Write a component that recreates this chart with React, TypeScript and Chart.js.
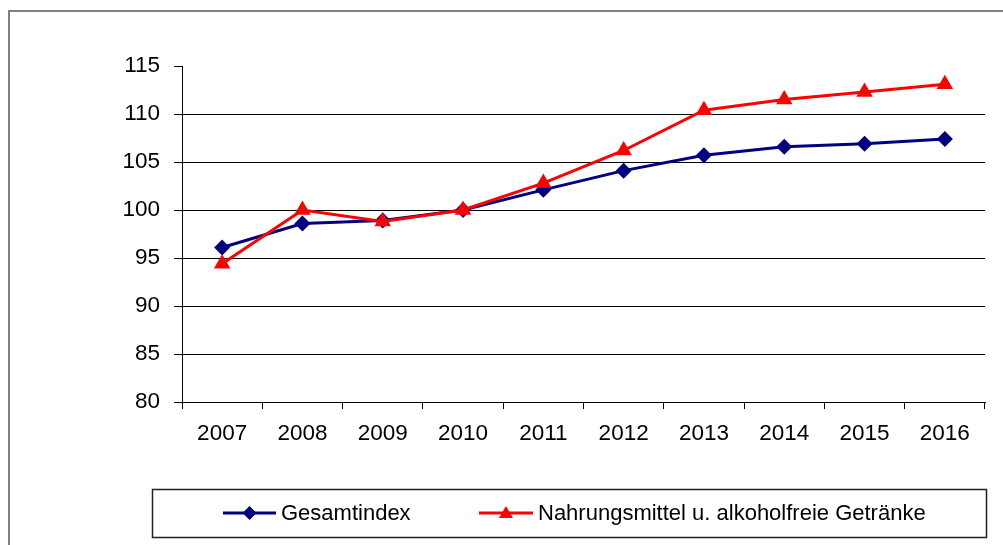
import React, { useEffect, useRef } from "react";
import { Chart, registerables } from "chart.js";

Chart.register(...registerables);

const years = ["2007", "2008", "2009", "2010", "2011", "2012", "2013", "2014", "2015", "2016"];
const gesamtindex = [96.1, 98.6, 98.9, 100, 102.1, 104.1, 105.7, 106.6, 106.9, 107.4];
const nahrungsmittel = [94.4, 100.0, 98.8, 100, 102.8, 106.2, 110.4, 111.5, 112.3, 113.1];
const seriesNames = ["Gesamtindex", "Nahrungsmittel u. alkoholfreie Getränke"];

const FONT = "'Liberation Sans', Arial, sans-serif";

const framePlugin = {
  id: "frame",
  beforeDraw(chart: any) {
    const ctx = chart.ctx;
    ctx.save();
    ctx.strokeStyle = "#808080";
    ctx.lineWidth = 2;
    ctx.beginPath();
    ctx.moveTo(9, 545);
    ctx.lineTo(9, 11);
    ctx.lineTo(1003, 11);
    ctx.stroke();
    ctx.restore();
  },
};

function drawDiamond(ctx: CanvasRenderingContext2D, x: number, y: number, r: number, color: string) {
  ctx.fillStyle = color;
  ctx.beginPath();
  ctx.moveTo(x, y - r);
  ctx.lineTo(x + r, y);
  ctx.lineTo(x, y + r);
  ctx.lineTo(x - r, y);
  ctx.closePath();
  ctx.fill();
}

function drawTriangle(ctx: CanvasRenderingContext2D, x: number, y: number, w: number, h: number, color: string) {
  ctx.fillStyle = color;
  ctx.beginPath();
  ctx.moveTo(x, y - h / 2);
  ctx.lineTo(x + w / 2, y + h / 2);
  ctx.lineTo(x - w / 2, y + h / 2);
  ctx.closePath();
  ctx.fill();
}

const legendPlugin = {
  id: "boxLegend",
  afterDraw(chart: any) {
    const ctx: CanvasRenderingContext2D = chart.ctx;
    ctx.save();
    ctx.strokeStyle = "#202020";
    ctx.lineWidth = 1.5;
    ctx.strokeRect(152.5, 489.5, 834, 48);
    const cy = 513;
    ctx.font = `22px ${FONT}`;
    ctx.textBaseline = "middle";
    ctx.textAlign = "left";
    // entry 1
    ctx.strokeStyle = "#000080";
    ctx.lineWidth = 3;
    ctx.beginPath();
    ctx.moveTo(223, cy);
    ctx.lineTo(276, cy);
    ctx.stroke();
    drawDiamond(ctx, 249.5, cy, 7, "#000080");
    ctx.fillStyle = "#000";
    ctx.fillText(chart.data.datasets[0].label, 281, cy + 1);
    // entry 2
    ctx.strokeStyle = "#FF0000";
    ctx.lineWidth = 3;
    ctx.beginPath();
    ctx.moveTo(479, cy);
    ctx.lineTo(533, cy);
    ctx.stroke();
    drawTriangle(ctx, 506, cy - 1, 14, 12, "#FF0000");
    ctx.fillStyle = "#000";
    ctx.fillText(chart.data.datasets[1].label, 538, cy + 1);
    ctx.restore();
  },
};

export default function App() {
  const ref = useRef<HTMLCanvasElement | null>(null);
  useEffect(() => {
    if (!ref.current) return;
    const chart = new Chart(ref.current, {
      type: "line",
      data: {
        labels: years,
        datasets: [
          {
            label: seriesNames[0],
            data: gesamtindex,
            borderColor: "#000080",
            backgroundColor: "#000080",
            borderWidth: 3,
            pointStyle: "rectRot",
            pointRadius: 8,
            pointBorderWidth: 0,
            pointBackgroundColor: "#000080",
            tension: 0,
            order: 1,
          },
          {
            label: seriesNames[1],
            data: nahrungsmittel,
            borderColor: "#FF0000",
            backgroundColor: "#FF0000",
            borderWidth: 3,
            pointStyle: "triangle",
            pointRadius: 9.5,
            pointBorderWidth: 0,
            pointBackgroundColor: "#FF0000",
            tension: 0,
            order: 0,
          },
        ],
      },
      options: {
        responsive: false,
        animation: false,
        layout: { padding: { top: 66, right: 18, bottom: 0, left: 0 } },
        plugins: {
          legend: { display: false },
          tooltip: { enabled: false },
        },
        scales: {
          x: {
            offset: true,
            grid: {
              offset: true,
              drawOnChartArea: false,
              drawTicks: true,
              tickLength: 7,
              tickColor: "#000",
              tickWidth: 1,
            },
            border: { color: "#000", width: 1 },
            ticks: {
              color: "#000",
              font: { family: FONT, size: 22.5 },
              padding: 11,
              maxRotation: 0,
              autoSkip: false,
            },
            afterFit(scale: any) {
              scale.height = 143;
            },
          },
          y: {
            min: 80,
            max: 115,
            grid: {
              color: (c: any) => (c.tick && (c.tick.value === 115 || c.tick.value === 80) ? "rgba(0,0,0,0)" : "#000"),
              lineWidth: 1,
              drawTicks: true,
              tickLength: 8,
              tickColor: "#000",
            },
            border: { color: "#000", width: 1 },
            ticks: {
              stepSize: 5,
              color: "#000",
              font: { family: FONT, size: 22.5 },
              padding: 14,
            },
            afterFit(scale: any) {
              scale.width = 182;
            },
          },
        },
      },
      plugins: [framePlugin, legendPlugin],
    });
    return () => chart.destroy();
  }, []);
  return (
    <div style={{ position: "absolute", left: 0, top: 0, width: 1003, height: 545, background: "#fff" }}>
      <canvas ref={ref} width={1003} height={545} style={{ display: "block" }} />
    </div>
  );
}
